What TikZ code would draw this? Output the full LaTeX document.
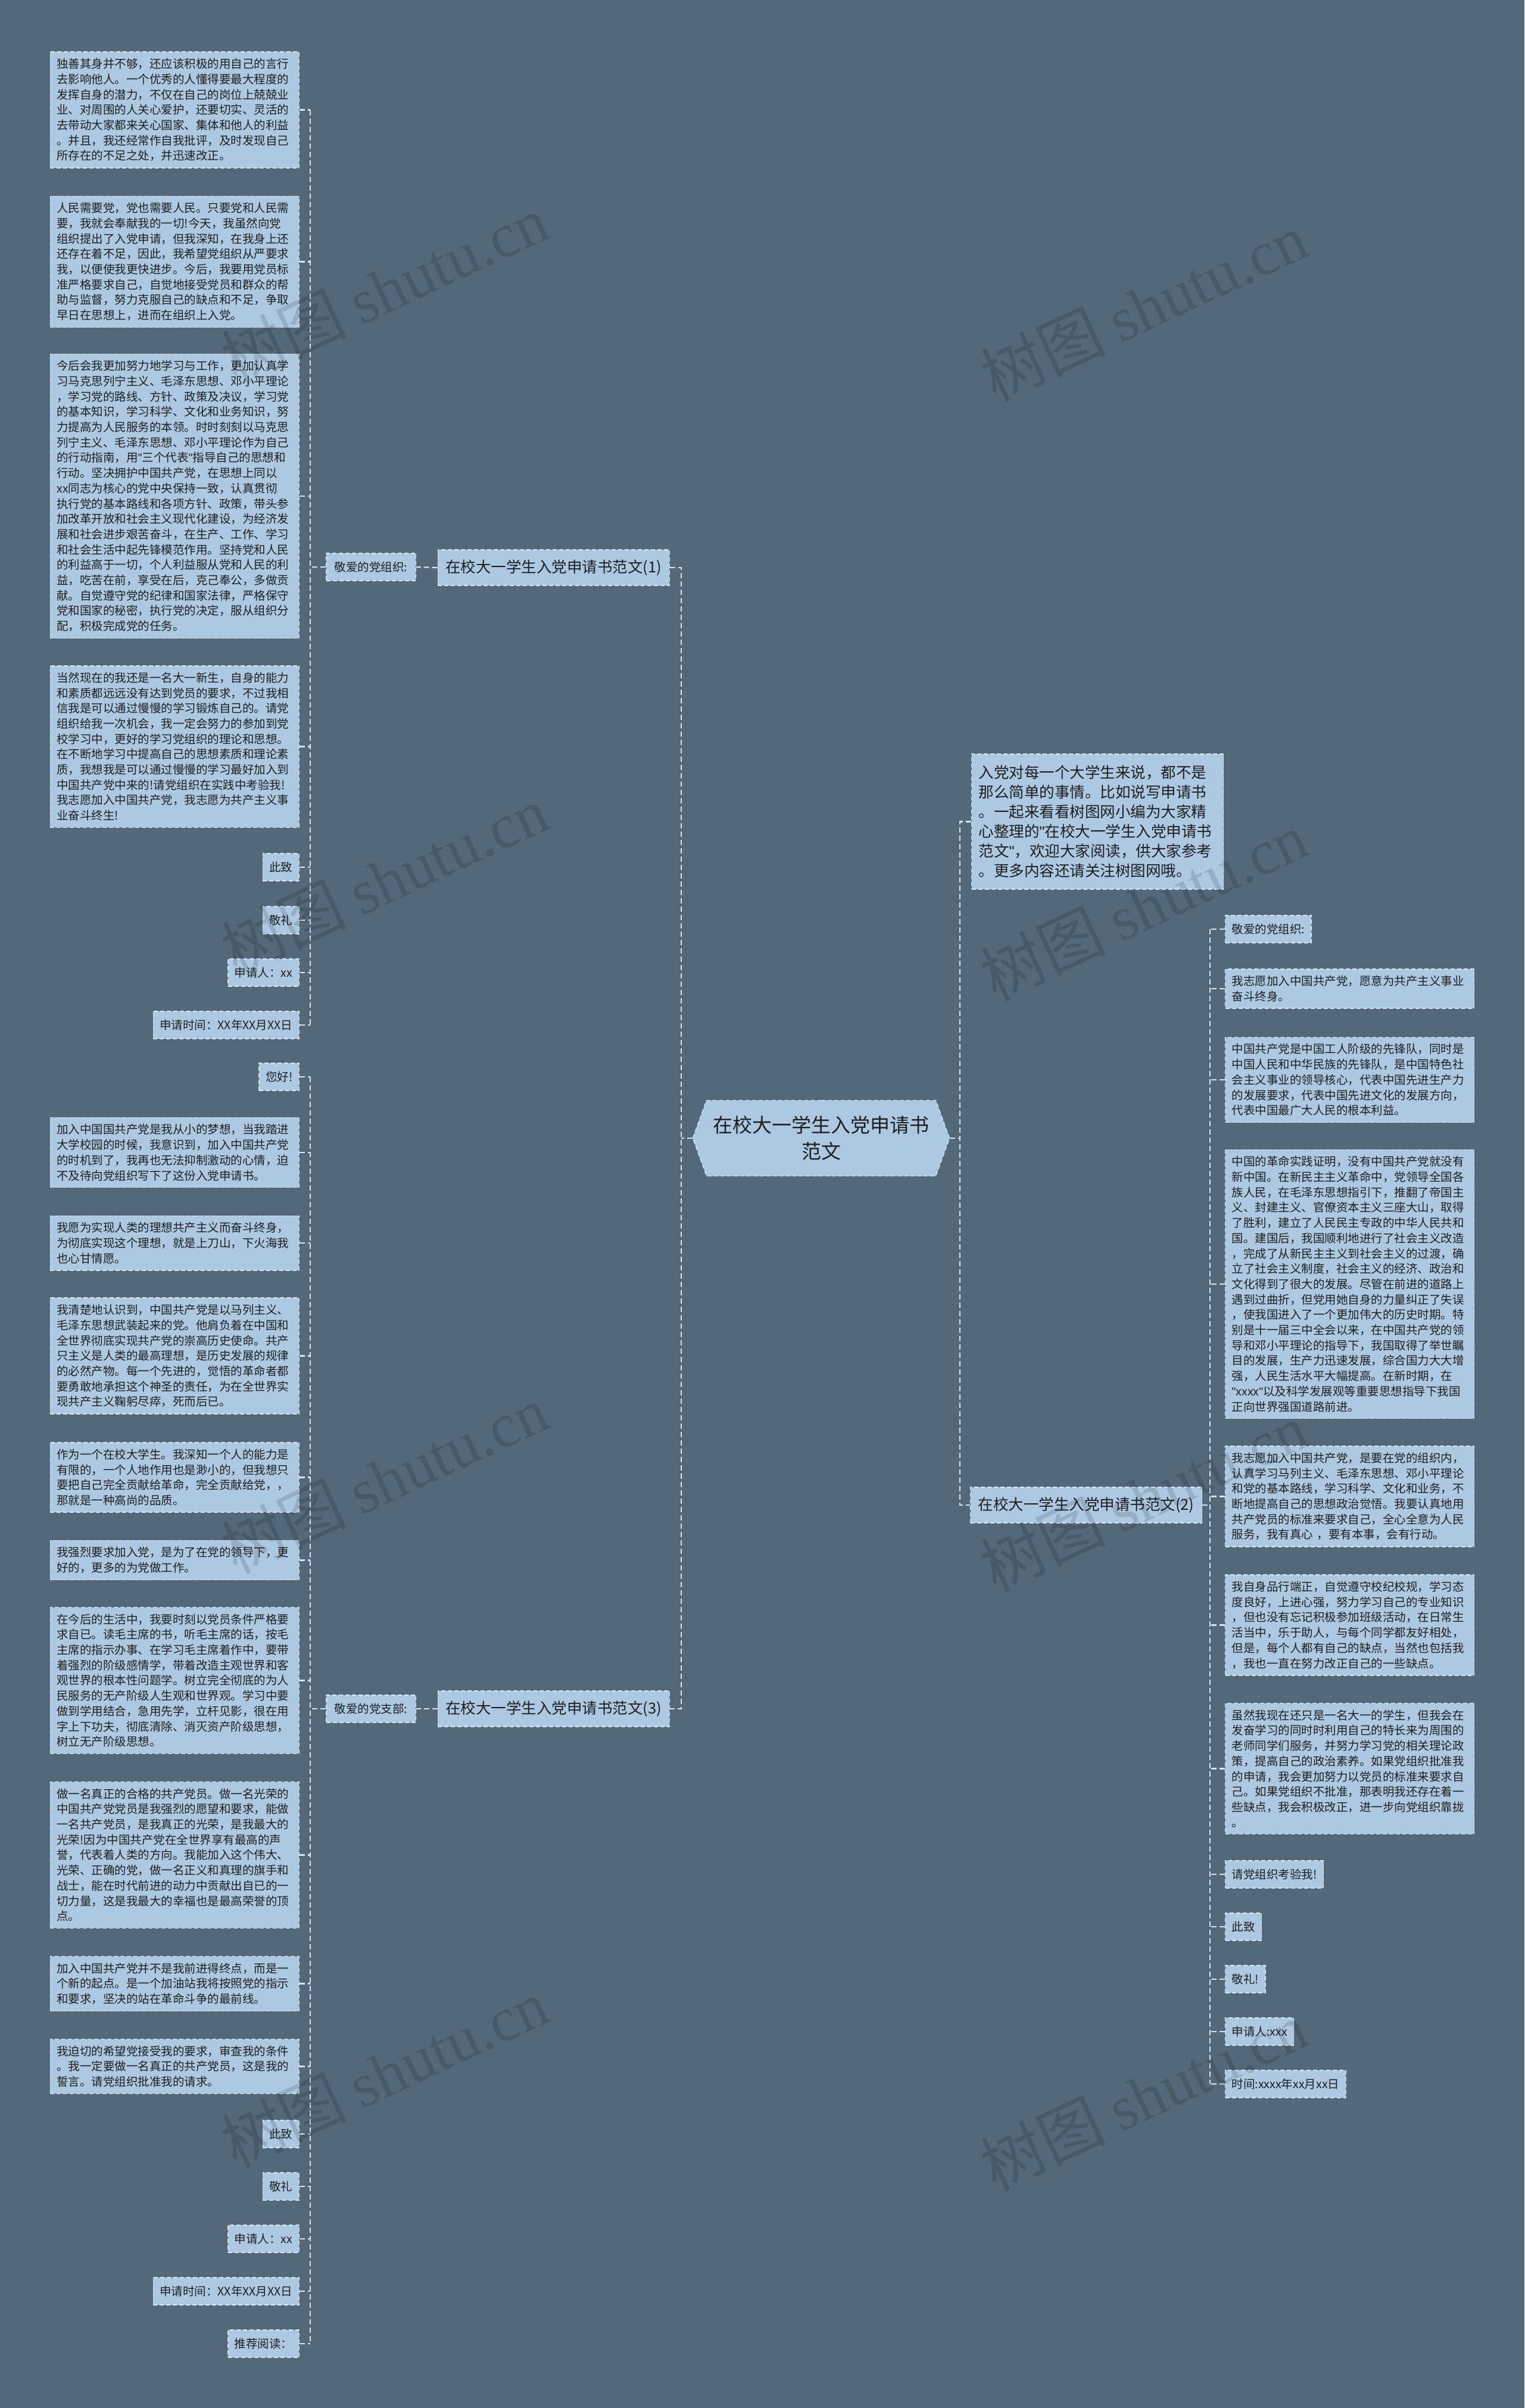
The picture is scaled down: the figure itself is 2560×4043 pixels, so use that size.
\documentclass[tikz,border=0pt]{standalone}
\usepackage{fontspec}
\setmainfont{Noto Sans CJK SC}
\newfontfamily\wmserif{Liberation Serif}
\newfontfamily\qfont{Liberation Sans}
\newcommand\dq{{\qfont"}}
\usetikzlibrary{shapes.symbols}
\definecolor{bgcol}{RGB}{83,104,120}
\definecolor{boxcol}{RGB}{172,201,225}
\definecolor{edgecol}{RGB}{214,229,240}
\definecolor{inkcol}{RGB}{30,30,30}

\begin{document}
\begin{tikzpicture}[x=1pt,y=-1pt]
\tikzstyle{leaf}=[draw=edgecol,dash pattern=on 7pt off 4pt,line width=1.4pt,fill=boxcol,text=inkcol,inner xsep=11pt,inner ysep=11pt,font=\fontsize{19.5}{25.7}\selectfont,align=left,minimum height=46pt];
\tikzstyle{para}=[leaf,text width=396pt];
\tikzstyle{topic}=[leaf,font=\fontsize{25.5}{30}\selectfont,inner xsep=13pt,minimum height=60pt];
\tikzstyle{conn}=[draw=edgecol,line width=2.2pt,dash pattern=on 9pt off 5pt];
\tikzstyle{wmark}=[rotate=25,text=black,opacity=0.13,font=\fontsize{105}{105}\selectfont];

\fill[bgcol] (0,0) rectangle (2560,4043);
\useasboundingbox (0,0) rectangle (2560,4043);

% centre
\node [leaf,shape=signal,signal to=west and east,signal pointer angle=140,font=\fontsize{33}{44}\selectfont,align=center,minimum width=428pt,minimum height=127pt] (root) at (1379,1911) {在校大一学生入党申请书\\范文};
\coordinate (tl) at (1144,1911);
\coordinate (tr) at (1612,1911);

\node [leaf,font=\fontsize{25.5}{33}\selectfont,text width=399pt,inner xsep=12pt,inner ysep=19pt,anchor=west] (intro) at (1631,1379.5) {入党对每一个大学生来说，都不是\\那么简单的事情。比如说写申请书\\。一起来看看树图网小编为大家精\\心整理的\dq 在校大一学生入党申请书\\范文\dq ，欢迎大家阅读，供大家参考\\。更多内容还请关注树图网哦。};

\node [topic,anchor=east] (top1) at (1125,953) {在校大一学生入党申请书范文(1)};
\node [topic,anchor=west] (top2) at (1629,2527) {在校大一学生入党申请书范文(2)};
\node [topic,anchor=east] (top3) at (1125,2869) {在校大一学生入党申请书范文(3)};

\node [leaf,anchor=east,inner xsep=14pt] (sub1) at (699,952) {敬爱的党组织:};
\node [leaf,anchor=east,inner xsep=14pt] (sub3) at (699,2869) {敬爱的党支部:};
\coordinate (t1) at (521,952);
\coordinate (t3) at (521,2869);
\coordinate (t2) at (2032,2527);

% branch 1
\node [para,anchor=east] (a1) at (503,184.5) {独善其身并不够，还应该积极的用自己的言行\\去影响他人。一个优秀的人懂得要最大程度的\\发挥自身的潜力，不仅在自己的岗位上兢兢业\\业、对周围的人关心爱护，还要切实、灵活的\\去带动大家都来关心国家、集体和他人的利益\\。并且，我还经常作自我批评，及时发现自己\\所存在的不足之处，并迅速改正。};
\node [para,anchor=east] (a2) at (503,439.5) {人民需要党，党也需要人民。只要党和人民需\\要，我就会奉献我的一切!今天，我虽然向党\\组织提出了入党申请，但我深知，在我身上还\\还存在着不足，因此，我希望党组织从严要求\\我，以便使我更快进步。今后，我要用党员标\\准严格要求自己，自觉地接受党员和群众的帮\\助与监督，努力克服自己的缺点和不足，争取\\早日在思想上，进而在组织上入党。};
\node [para,anchor=east] (a3) at (503,833) {今后会我更加努力地学习与工作，更加认真学\\习马克思列宁主义、毛泽东思想、邓小平理论\\，学习党的路线、方针、政策及决议，学习党\\的基本知识，学习科学、文化和业务知识，努\\力提高为人民服务的本领。时时刻刻以马克思\\列宁主义、毛泽东思想、邓小平理论作为自己\\的行动指南，用\dq 三个代表\dq 指导自己的思想和\\行动。坚决拥护中国共产党，在思想上同以\\xx同志为核心的党中央保持一致，认真贯彻\\执行党的基本路线和各项方针、政策，带头参\\加改革开放和社会主义现代化建设，为经济发\\展和社会进步艰苦奋斗，在生产、工作、学习\\和社会生活中起先锋模范作用。坚持党和人民\\的利益高于一切，个人利益服从党和人民的利\\益，吃苦在前，享受在后，克己奉公，多做贡\\献。自觉遵守党的纪律和国家法律，严格保守\\党和国家的秘密，执行党的决定，服从组织分\\配，积极完成党的任务。};
\node [para,anchor=east] (a4) at (503,1253.5) {当然现在的我还是一名大一新生，自身的能力\\和素质都远远没有达到党员的要求，不过我相\\信我是可以通过慢慢的学习锻炼自己的。请党\\组织给我一次机会，我一定会努力的参加到党\\校学习中，更好的学习党组织的理论和思想。\\在不断地学习中提高自己的思想素质和理论素\\质，我想我是可以通过慢慢的学习最好加入到\\中国共产党中来的!请党组织在实践中考验我!\\我志愿加入中国共产党，我志愿为共产主义事\\业奋斗终生!};
\node [leaf,anchor=east] (a5) at (503,1456) {此致};
\node [leaf,anchor=east] (a6) at (503,1545) {敬礼};
\node [leaf,anchor=east] (a7) at (503,1633) {申请人：xx};
\node [leaf,anchor=east] (a8) at (503,1721) {申请时间：XX年XX月XX日};

% branch 3
\node [leaf,anchor=east] (c1) at (503,1808) {您好!};
\node [para,anchor=east] (c2) at (503,1935) {加入中国国共产党是我从小的梦想，当我踏进\\大学校园的时候，我意识到，加入中国共产党\\的时机到了，我再也无法抑制激动的心情，迫\\不及待向党组织写下了这份入党申请书。};
\node [para,anchor=east] (c3) at (503,2087) {我愿为实现人类的理想共产主义而奋斗终身，\\为彻底实现这个理想，就是上刀山，下火海我\\也心甘情愿。};
\node [para,anchor=east] (c4) at (503,2276.5) {我清楚地认识到，中国共产党是以马列主义、\\毛泽东思想武装起来的党。他肩负着在中国和\\全世界彻底实现共产党的崇高历史使命。共产\\只主义是人类的最高理想，是历史发展的规律\\的必然产物。每一个先进的，觉悟的革命者都\\要勇敢地承担这个神圣的责任，为在全世界实\\现共产主义鞠躬尽瘁，死而后已。};
\node [para,anchor=east] (c5) at (503,2480.5) {作为一个在校大学生。我深知一个人的能力是\\有限的，一个人地作用也是渺小的，但我想只\\要把自己完全贡献给革命，完全贡献给党，，\\那就是一种高尚的品质。};
\node [para,anchor=east] (c6) at (503,2619.5) {我强烈要求加入党，是为了在党的领导下，更\\好的，更多的为党做工作。};
\node [para,anchor=east] (c7) at (503,2821.5) {在今后的生活中，我要时刻以党员条件严格要\\求自已。读毛主席的书，听毛主席的话，按毛\\主席的指示办事、在学习毛主席着作中，要带\\着强烈的阶级感情学，带着改造主观世界和客\\观世界的根本性问题学。树立完全彻底的为人\\民服务的无产阶级人生观和世界观。学习中要\\做到学用结合，急用先学，立杆见影，很在用\\字上下功夫，彻底清除、消灭资产阶级思想，\\树立无产阶级思想。};
\node [para,anchor=east] (c8) at (503,3114.5) {做一名真正的合格的共产党员。做一名光荣的\\中国共产党党员是我强烈的愿望和要求，能做\\一名共产党员，是我真正的光荣，是我最大的\\光荣!因为中国共产党在全世界享有最高的声\\誉，代表着人类的方向。我能加入这个伟大、\\光荣、正确的党，做一名正义和真理的旗手和\\战士，能在时代前进的动力中贡献出自已的一\\切力量，这是我最大的幸福也是最高荣誉的顶\\点。};
\node [para,anchor=east] (c9) at (503,3330.5) {加入中国共产党并不是我前进得终点，而是一\\个新的起点。是一个加油站我将按照党的指示\\和要求，坚决的站在革命斗争的最前线。};
\node [para,anchor=east] (c10) at (503,3469.5) {我迫切的希望党接受我的要求，审查我的条件\\。我一定要做一名真正的共产党员，这是我的\\誓言。请党组织批准我的请求。};
\node [leaf,anchor=east] (c11) at (503,3583) {此致};
\node [leaf,anchor=east] (c12) at (503,3671) {敬礼};
\node [leaf,anchor=east] (c13) at (503,3759) {申请人：xx};
\node [leaf,anchor=east] (c14) at (503,3847) {申请时间：XX年XX月XX日};
\node [leaf,anchor=east] (c15) at (503,3935) {推荐阅读：};

% branch 2
\node [leaf,anchor=west] (b1) at (2057,1560) {敬爱的党组织:};
\node [para,anchor=west] (b2) at (2057,1660) {我志愿加入中国共产党，愿意为共产主义事业\\奋斗终身。};
\node [para,anchor=west] (b3) at (2057,1813) {中国共产党是中国工人阶级的先锋队，同时是\\中国人民和中华民族的先锋队，是中国特色社\\会主义事业的领导核心，代表中国先进生产力\\的发展要求，代表中国先进文化的发展方向，\\代表中国最广大人民的根本利益。};
\node [para,anchor=west] (b4) at (2057,2156) {中国的革命实践证明，没有中国共产党就没有\\新中国。在新民主主义革命中，党领导全国各\\族人民，在毛泽东思想指引下，推翻了帝国主\\义、封建主义、官僚资本主义三座大山，取得\\了胜利，建立了人民民主专政的中华人民共和\\国。建国后，我国顺利地进行了社会主义改造\\，完成了从新民主主义到社会主义的过渡，确\\立了社会主义制度，社会主义的经济、政治和\\文化得到了很大的发展。尽管在前进的道路上\\遇到过曲折，但党用她自身的力量纠正了失误\\，使我国进入了一个更加伟大的历史时期。特\\别是十一届三中全会以来，在中国共产党的领\\导和邓小平理论的指导下，我国取得了举世瞩\\目的发展，生产力迅速发展，综合国力大大增\\强，人民生活水平大幅提高。在新时期，在\\\dq xxxx\dq 以及科学发展观等重要思想指导下我国\\正向世界强国道路前进。};
\node [para,anchor=west] (b5) at (2057,2512.5) {我志愿加入中国共产党，是要在党的组织内，\\认真学习马列主义、毛泽东思想、邓小平理论\\和党的基本路线，学习科学、文化和业务，不\\断地提高自己的思想政治觉悟。我要认真地用\\共产党员的标准来要求自己，全心全意为人民\\服务，我有真心 ，要有本事，会有行动。};
\node [para,anchor=west] (b6) at (2057,2728.5) {我自身品行端正，自觉遵守校纪校规，学习态\\度良好，上进心强，努力学习自己的专业知识\\，但也没有忘记积极参加班级活动，在日常生\\活当中，乐于助人，与每个同学都友好相处，\\但是，每个人都有自己的缺点，当然也包括我\\，我也一直在努力改正自己的一些缺点。};
\node [para,anchor=west] (b7) at (2057,2969.5) {虽然我现在还只是一名大一的学生，但我会在\\发奋学习的同时时利用自己的特长来为周围的\\老师同学们服务，并努力学习党的相关理论政\\策，提高自己的政治素养。如果党组织批准我\\的申请，我会更加努力以党员的标准来要求自\\己。如果党组织不批准，那表明我还存在着一\\些缺点，我会积极改正，进一步向党组织靠拢\\。};
\node [leaf,anchor=west] (b8) at (2057,3147) {请党组织考验我!};
\node [leaf,anchor=west] (b9) at (2057,3235) {此致};
\node [leaf,anchor=west] (b10) at (2057,3323) {敬礼!};
\node [leaf,anchor=west] (b11) at (2057,3411) {申请人:xxx};
\node [leaf,anchor=west] (b12) at (2057,3499) {时间:xxxx年xx月xx日};

% connectors
\draw[conn] (root.west) -- (tl);
\draw[conn] (top1.east) -- (top1.east -| tl) -- (top3.east -| tl) -- (top3.east);
\draw[conn] (root.east) -- (tr);
\draw[conn] (intro.west) -- (intro.west -| tr) -- (top2.west -| tr) -- (top2.west);

\draw[conn] (top1.west) -- (sub1.east);
\draw[conn] (sub1.west) -- (t1);
\draw[conn] (a1.east -| t1) -- (a8.east -| t1);
\draw[conn] (a1.east) -- (a1.east -| t1) (a2.east) -- (a2.east -| t1) (a3.east) -- (a3.east -| t1) (a4.east) -- (a4.east -| t1) (a5.east) -- (a5.east -| t1) (a6.east) -- (a6.east -| t1) (a7.east) -- (a7.east -| t1) (a8.east) -- (a8.east -| t1);

\draw[conn] (top3.west) -- (sub3.east);
\draw[conn] (sub3.west) -- (t3);
\draw[conn] (c1.east -| t3) -- (c15.east -| t3);
\draw[conn] (c1.east) -- (c1.east -| t3) (c2.east) -- (c2.east -| t3) (c3.east) -- (c3.east -| t3) (c4.east) -- (c4.east -| t3) (c5.east) -- (c5.east -| t3) (c6.east) -- (c6.east -| t3) (c7.east) -- (c7.east -| t3) (c8.east) -- (c8.east -| t3);
\draw[conn] (c9.east) -- (c9.east -| t3) (c10.east) -- (c10.east -| t3) (c11.east) -- (c11.east -| t3) (c12.east) -- (c12.east -| t3) (c13.east) -- (c13.east -| t3) (c14.east) -- (c14.east -| t3) (c15.east) -- (c15.east -| t3);

\draw[conn] (top2.east) -- (t2);
\draw[conn] (b1.west -| t2) -- (b12.west -| t2);
\draw[conn] (b1.west) -- (b1.west -| t2) (b2.west) -- (b2.west -| t2) (b3.west) -- (b3.west -| t2) (b4.west) -- (b4.west -| t2) (b5.west) -- (b5.west -| t2) (b6.west) -- (b6.west -| t2);
\draw[conn] (b7.west) -- (b7.west -| t2) (b8.west) -- (b8.west -| t2) (b9.west) -- (b9.west -| t2) (b10.west) -- (b10.west -| t2) (b11.west) -- (b11.west -| t2) (b12.west) -- (b12.west -| t2);

% watermarks
\node [wmark] (wm1) at (645,485) {树图 {\wmserif shutu.cn}};
\node [wmark] (wm2) at (645,1477) {树图 {\wmserif shutu.cn}};
\node [wmark] (wm3) at (645,2483) {树图 {\wmserif shutu.cn}};
\node [wmark] (wm4) at (645,3480) {树图 {\wmserif shutu.cn}};
\node [wmark] (wm5) at (1920,515) {树图 {\wmserif shutu.cn}};
\node [wmark] (wm6) at (1920,1521) {树图 {\wmserif shutu.cn}};
\node [wmark] (wm7) at (1920,2513) {树图 {\wmserif shutu.cn}};
\node [wmark] (wm8) at (1920,3519) {树图 {\wmserif shutu.cn}};
\end{tikzpicture}
\end{document}
